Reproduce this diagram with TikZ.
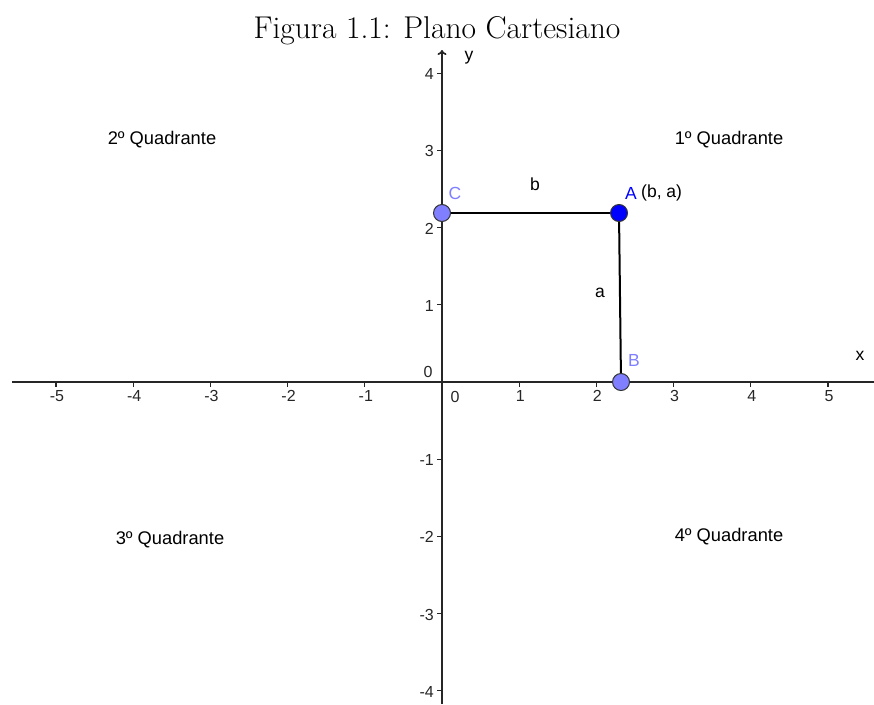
\documentclass[tikz,border=0pt]{standalone}
\usepackage{fontspec}
\newfontfamily\ggb{Liberation Sans}
\usetikzlibrary{arrows.meta}
\definecolor{ptlight}{HTML}{7F7FFF}
\definecolor{ptdark}{HTML}{0000FF}
\begin{document}
\begin{tikzpicture}[x=1pt,y=-1pt,
  axis/.style={line width=1.7pt,black!85},
  tickmark/.style={line width=1.2pt,black!85},
  ticklab/.style={font=\ggb\fontsize{16}{18}\selectfont,text=black!85,inner sep=0pt},
  lab/.style={font=\ggb\fontsize{17.5}{19}\selectfont,inner sep=0pt},
  quad/.style={font=\ggb\fontsize{18.3}{20}\selectfont,inner sep=0pt},
  seg/.style={line width=2pt,black},
  ptl/.style={circle,fill=ptlight,draw=black!80,line width=1pt,minimum size=17pt,inner sep=0pt},
  ptd/.style={circle,fill=ptdark,draw=black!80,line width=1pt,minimum size=17pt,inner sep=0pt}]
\useasboundingbox (0,0) rectangle (874,704);
\node[font=\fontsize{31.5}{34}\selectfont,inner sep=0pt] (title) at (437,31) {Figura 1.1: Plano Cartesiano};
% axes
\coordinate (xl) at (12,382);
\coordinate (xr) at (874,382);
\coordinate (yb) at (442,704);
\coordinate (yt) at (442,50);
\draw[axis] (xl) -- (xr);
\draw[axis,-{To[length=5pt,width=9pt]}] (yb) -- (yt);
% x ticks
\foreach \i in {-5,-4,-3,-2,-1,1,2,3,4,5}{
  \draw[tickmark] (442+77.2*\i,382) -- (442+77.2*\i,387);
  \node[ticklab,anchor=north] at (443+77.2*\i,390) {\i};
}
% y ticks
\foreach \j in {-4,-3,-2,-1,1,2,3,4}{
  \draw[tickmark] (442,382-77.2*\j) -- (437,382-77.2*\j);
  \node[ticklab,anchor=east] at (434,383-77.2*\j) {\j};
}
\node[ticklab] (o1) at (428,372) {0};
\node[ticklab] (o2) at (455,397) {0};
\node[lab] (xlab) at (860,356) {x};
\node[lab] (ylab) at (469,58) {y};
% quadrants
\node[quad] (q1) at (729,140) {1º Quadrante};
\node[quad] (q2) at (162,140) {2º Quadrante};
\node[quad] (q3) at (170,540) {3º Quadrante};
\node[quad] (q4) at (729,537) {4º Quadrante};
% points
\coordinate (Cp) at (442,213);
\coordinate (Ap) at (619,213);
\coordinate (Bp) at (621,382);
\draw[seg] (Cp) -- (Ap);
\draw[seg] (Ap) -- (Bp);
\node[ptl] (C) at (Cp) {};
\node[ptd] (A) at (Ap) {};
\node[ptl] (B) at (Bp) {};
\node[lab,text=ptlight] (Clab) at (455,193) {C};
\node[lab,text=ptdark] (Alab) at (631,193) {A};
\node[lab,anchor=west] (Acoord) at (641,193) {(b, a)};
\node[lab] (blab) at (535,184) {b};
\node[lab] (alab) at (600,293) {a};
\node[lab,text=ptlight] (Blab) at (634,360) {B};
\end{tikzpicture}
\end{document}
